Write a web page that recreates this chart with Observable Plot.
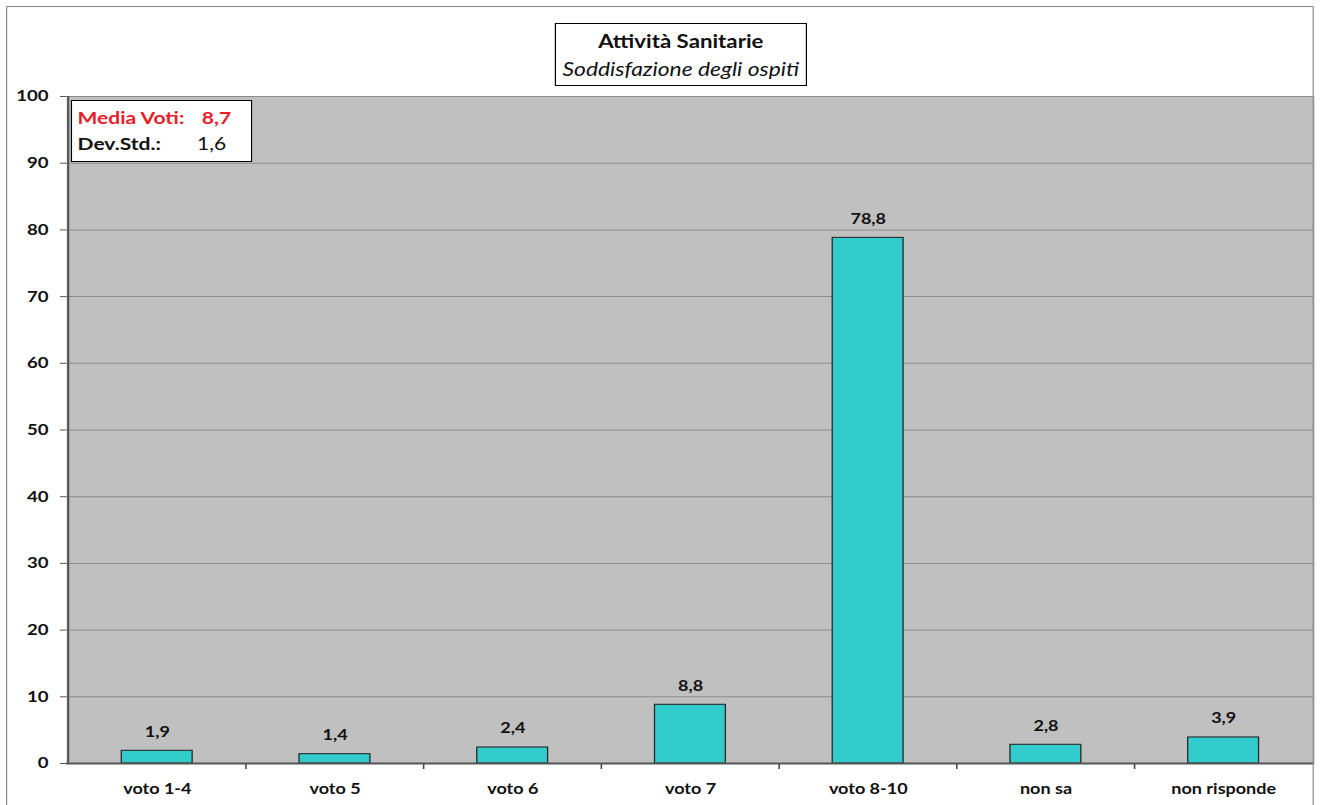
<!DOCTYPE html>
<html>
<head>
<meta charset="utf-8">
<script src="https://cdn.jsdelivr.net/npm/d3@7"></script>
<script src="https://cdn.jsdelivr.net/npm/@observablehq/plot@0.6"></script>
<style>
  html, body { margin: 0; padding: 0; background: #fff; overflow: hidden; }
  body { width: 1321px; height: 805px; position: relative; font-family: Lato, "Open Sans", sans-serif; }
  /* the whole figure is laid out 1100 wide and widened to the page width */
  #stage { position: absolute; left: 0; top: 0; width: 1100px; height: 805px; transform-origin: 0 0; }
  #chart { position: absolute; left: 0; top: 0; }
  .outer { position: absolute; left: 5px; top: 6px; width: 1087.4px; height: 840px; border: 1.7px solid #8a8a8a; pointer-events: none; }
  .title-box { position: absolute; left: 462px; top: 23px; width: 207.8px; height: 61px; border: 1px solid #000; background: #fff; text-align: center; color: #111; }
  .title-box div { position: absolute; left: 0; right: 0; line-height: 1; white-space: nowrap; }
  .title-box .t1 { top: 7.5px; font-weight: bold; font-size: 18.5px; }
  .title-box .t2 { top: 35px; font-style: italic; font-size: 19px; }
  .stat-box { position: absolute; left: 59.1px; top: 100px; width: 148.7px; height: 60px; border: 1px solid #000; background: #fff; }
  .stat-row { position: absolute; left: 4.5px; font-size: 17.5px; line-height: 1; white-space: nowrap; }
  .stat-row .v { position: absolute; }
</style>
</head>
<body>
<div id="stage">
  <div id="chart"></div>
  <div class="outer"></div>
</div>
<script>
// Survey answers: share of guests (%) for each rating class
const categories = ["voto 1-4", "voto 5", "voto 6", "voto 7", "voto 8-10", "non sa", "non risponde"];
const values = [1.9, 1.4, 2.4, 8.8, 78.8, 2.8, 3.9];
const yTicks = [0, 10, 20, 30, 40, 50, 60, 70, 80, 90, 100];

// Summary statistics shown in the inset box
const statLabels = ["Media Voti:", "Dev.Std.:"];
const statValues = [8.7, 1.6];
const statColors = ["#e8202a", "#111"];

const titleText = "Attività Sanitarie";
const subtitleText = "Soddisfazione degli ospiti";

const data = categories.map((c, i) => ({category: c, value: values[i]}));
const fmt = v => v.toFixed(1).replace(".", ",");

const PAGE_W = 1321;
const W = 1100, H = 805;
const stretch = PAGE_W / W;
document.getElementById("stage").style.transform = `scaleX(${stretch})`;

const mLeft = 55, mRight = 5.8, mTop = 96, mBottom = 42;
const step = (W - mLeft - mRight) / categories.length;

const chart = Plot.plot({
  width: W,
  height: H,
  marginLeft: mLeft,
  marginRight: mRight,
  marginTop: mTop,
  marginBottom: mBottom,
  style: {fontFamily: "Lato, 'Open Sans', sans-serif", background: "transparent", maxWidth: "none"},
  x: {domain: categories, paddingInner: 0.6, paddingOuter: 0.3},
  y: {domain: [0, 100]},
  marks: [
    Plot.frame({fill: "#c0c0c0", stroke: null}),
    Plot.gridY(yTicks, {stroke: "#8c8c8c", strokeOpacity: 1, strokeWidth: 1}),
    Plot.axisY(yTicks, {
      tickSize: 5, tickPadding: 10, fontSize: 15.5, fontWeight: "bold",
      stroke: "#555", fill: "#111", label: null
    }),
    Plot.axisX({tickSize: 0, tickPadding: 20, fontSize: 15, fontWeight: "bold", fill: "#111", label: null}),
    // category boundary ticks below the baseline
    Plot.ruleX(categories.slice(1), {dx: -step / 2, y1: 0, y2: 0, insetBottom: -6, stroke: "#444", strokeWidth: 1.3}),
    Plot.barY(data, {x: "category", y: "value", fill: "#33cccc", stroke: "#2a2a2a", strokeWidth: 1.1}),
    Plot.text(data, {
      x: "category", y: "value", text: d => fmt(d.value), dy: -14, lineAnchor: "bottom",
      fontSize: 15, fontWeight: "bold", fill: "#111"
    }),
    // axis lines
    Plot.ruleX([categories[0]], {dx: -step / 2, y1: 0, y2: 100, stroke: "#555", strokeWidth: 1.8}),
    Plot.ruleY([0], {stroke: "#555", strokeWidth: 2})
  ]
});
document.getElementById("chart").appendChild(chart);

const stage = document.getElementById("stage");

// Title box
const tb = document.createElement("div");
tb.className = "title-box";
const t1 = document.createElement("div");
t1.className = "t1";
t1.textContent = titleText;
const t2 = document.createElement("div");
t2.className = "t2";
t2.textContent = subtitleText;
tb.appendChild(t1);
tb.appendChild(t2);
stage.appendChild(tb);

// Statistics box
const valueOffsets = [103.5, 99.5];
const sb = document.createElement("div");
sb.className = "stat-box";
statLabels.forEach((lab, i) => {
  const row = document.createElement("div");
  row.className = "stat-row";
  row.style.top = (7.5 + i * 26) + "px";
  row.style.color = statColors[i];
  row.style.fontWeight = "bold";
  const l = document.createElement("span");
  l.textContent = lab;
  const v = document.createElement("span");
  v.className = "v";
  v.style.left = valueOffsets[i] + "px";
  v.textContent = fmt(statValues[i]);
  if (i > 0) v.style.fontWeight = "normal";
  row.appendChild(l);
  row.appendChild(v);
  sb.appendChild(row);
});
stage.appendChild(sb);
</script>
</body>
</html>
